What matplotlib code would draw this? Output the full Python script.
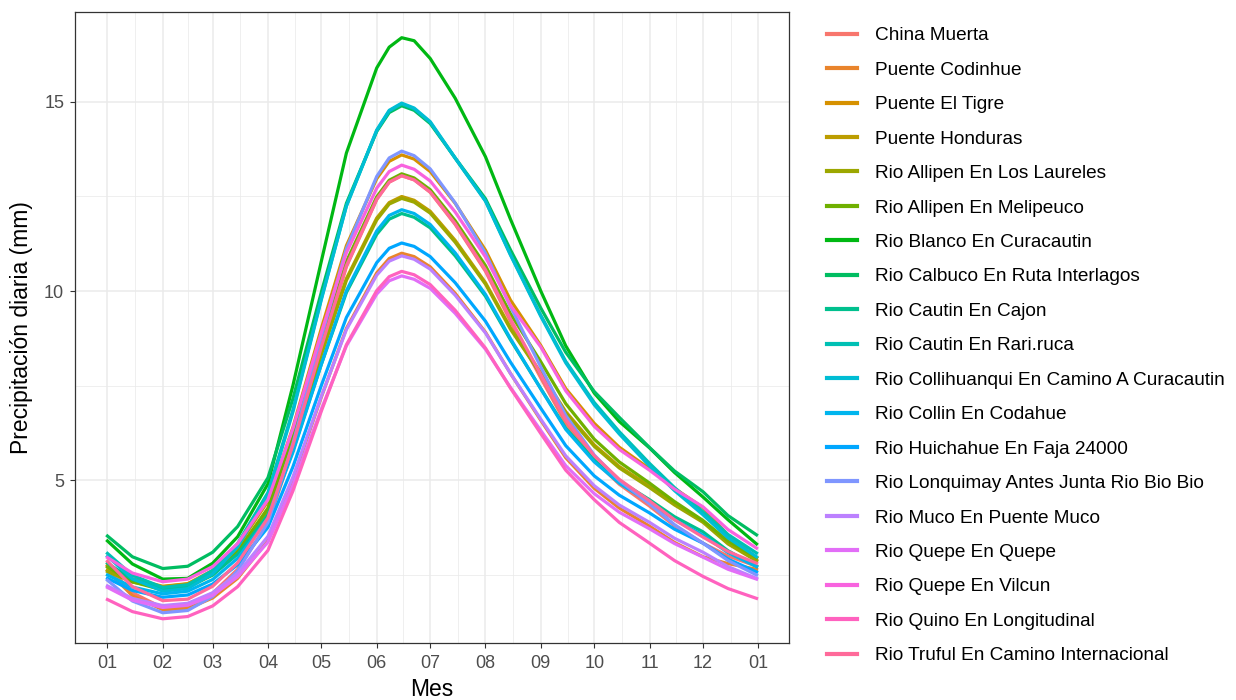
import numpy as np
import pandas as pd
import matplotlib
matplotlib.use("Agg")
import matplotlib.pyplot as plt
import matplotlib.dates as mdates

plt.rcParams['font.family'] = ['Liberation Sans', 'DejaVu Sans']

# ---------------- data ----------------
dates = ['2021-01-01', '2021-01-15', '2021-02-01', '2021-02-15', '2021-03-01', '2021-03-15',
         '2021-04-01', '2021-04-15', '2021-05-01', '2021-05-15', '2021-06-01', '2021-06-08',
         '2021-06-15', '2021-06-22', '2021-07-01', '2021-07-15', '2021-08-01', '2021-08-15',
         '2021-09-01', '2021-09-15', '2021-10-01', '2021-10-15', '2021-11-01', '2021-11-15',
         '2021-12-01', '2021-12-15', '2021-12-31']

stations = ['China Muerta', 'Puente Codinhue', 'Puente El Tigre', 'Puente Honduras',
            'Rio Allipen En Los Laureles', 'Rio Allipen En Melipeuco', 'Rio Blanco En Curacautin',
            'Rio Calbuco En Ruta Interlagos', 'Rio Cautin En Cajon', 'Rio Cautin En Rari.ruca',
            'Rio Collihuanqui En Camino A Curacautin', 'Rio Collin En Codahue',
            'Rio Huichahue En Faja 24000', 'Rio Lonquimay Antes Junta Rio Bio Bio',
            'Rio Muco En Puente Muco', 'Rio Quepe En Quepe', 'Rio Quepe En Vilcun',
            'Rio Quino En Longitudinal', 'Rio Truful En Camino Internacional']

china_muerta = [2.72, 2.02, 1.62, 1.67, 2.01, 2.64, 3.85, 5.81, 8.45, 10.64, 12.42, 12.88, 13.05, 12.94,
                12.61, 11.76, 10.52, 9.20, 7.70, 6.50, 5.52, 4.89, 4.31, 3.79, 3.33, 2.99, 2.72]
puente_codinhue = [2.60, 1.94, 1.57, 1.60, 1.88, 2.40, 3.40, 5.02, 7.20, 9.01, 10.48, 10.86, 11.00, 10.91,
                   10.64, 9.94, 8.91, 7.82, 6.58, 5.59, 4.78, 4.26, 3.78, 3.35, 2.97, 2.79, 2.64]
puente_el_tigre = [2.75, 2.39, 2.19, 2.26, 2.61, 3.24, 4.44, 6.39, 9.02, 11.20, 12.97, 13.43, 13.60, 13.49,
                   13.16, 12.32, 11.08, 9.76, 8.56, 7.42, 6.50, 5.87, 5.30, 4.78, 4.27, 3.54, 2.95]
puente_honduras = [2.62, 2.34, 2.18, 2.25, 2.56, 3.13, 4.22, 5.98, 8.36, 10.33, 11.93, 12.34, 12.50, 12.40,
                   12.11, 11.34, 10.22, 9.03, 7.84, 6.81, 5.93, 5.36, 4.84, 4.38, 3.91, 3.34, 2.88]
allipen_laureles = [2.58, 2.30, 2.15, 2.22, 2.53, 3.10, 4.19, 5.94, 8.32, 10.28, 11.88, 12.30, 12.45, 12.35,
                    12.06, 11.29, 10.18, 8.99, 7.80, 6.77, 5.89, 5.32, 4.80, 4.34, 3.88, 3.31, 2.86]
allipen_melipeuco = [2.70, 2.31, 2.09, 2.16, 2.49, 3.10, 4.26, 6.14, 8.68, 10.78, 12.49, 12.93, 13.10, 12.99,
                     12.68, 11.86, 10.67, 9.40, 8.13, 7.02, 6.08, 5.48, 4.92, 4.43, 3.93, 3.39, 2.95]
blanco_curacautin = [3.39, 2.78, 2.38, 2.40, 2.80, 3.50, 4.90, 7.50, 10.80, 13.65, 15.90, 16.45, 16.70, 16.62,
                     16.15, 15.10, 13.55, 11.90, 10.00, 8.55, 7.30, 6.55, 5.85, 5.20, 4.55, 3.95, 3.31]
calbuco_interlagos = [3.52, 2.97, 2.66, 2.72, 3.09, 3.77, 5.06, 7.15, 9.98, 12.32, 14.22, 14.72, 14.90, 14.78,
                      14.43, 13.52, 12.44, 11.09, 9.55, 8.38, 7.34, 6.66, 5.86, 5.24, 4.69, 4.06, 3.55]
cautin_cajon = [2.80, 2.37, 2.13, 2.19, 2.49, 3.04, 4.08, 5.78, 8.07, 9.96, 11.50, 11.90, 12.05, 11.95,
                11.67, 10.93, 9.86, 8.71, 7.42, 6.37, 5.53, 4.98, 4.48, 4.03, 3.63, 3.13, 2.72]
cautin_rariruca = [3.06, 2.48, 2.16, 2.23, 2.61, 3.32, 4.67, 6.85, 9.81, 12.25, 14.24, 14.76, 14.95, 14.82,
                   14.46, 13.51, 12.38, 10.97, 9.36, 8.14, 7.05, 6.28, 5.44, 4.80, 4.16, 3.56, 3.07]
collihuanqui = [2.98, 2.39, 2.06, 2.13, 2.52, 3.23, 4.59, 6.80, 9.78, 12.25, 14.26, 14.78, 14.97, 14.84,
                14.48, 13.52, 12.38, 10.95, 9.33, 8.10, 6.99, 6.22, 5.37, 4.72, 4.08, 3.47, 2.97]
collin_codahue = [2.49, 2.17, 1.99, 2.06, 2.37, 2.93, 4.00, 5.73, 8.07, 10.01, 11.59, 12.00, 12.15, 12.05,
                  11.76, 11.01, 9.91, 8.74, 7.41, 6.34, 5.48, 4.92, 4.41, 3.95, 3.54, 3.08, 2.71]
huichahue = [2.40, 2.08, 1.90, 1.96, 2.25, 2.76, 3.75, 5.35, 7.51, 9.30, 10.75, 11.13, 11.27, 11.18,
             10.91, 10.22, 9.20, 8.12, 6.90, 5.91, 5.11, 4.60, 4.13, 3.70, 3.33, 2.91, 2.57]
lonquimay = [2.35, 1.80, 1.49, 1.55, 1.92, 2.60, 3.88, 5.97, 8.79, 11.12, 13.03, 13.52, 13.70, 13.58,
             13.23, 12.33, 11.00, 9.59, 7.99, 6.71, 5.66, 4.99, 4.37, 3.82, 3.33, 2.87, 2.49]
muco = [2.20, 1.87, 1.68, 1.74, 2.02, 2.53, 3.51, 5.08, 7.22, 8.98, 10.42, 10.79, 10.93, 10.84,
        10.58, 9.89, 8.89, 7.82, 6.61, 5.64, 4.85, 4.34, 3.88, 3.46, 3.09, 2.71, 2.40]
quepe_quepe = [2.16, 1.82, 1.63, 1.69, 1.95, 2.44, 3.36, 4.86, 6.88, 8.55, 9.92, 10.27, 10.40, 10.31,
               10.07, 9.41, 8.46, 7.45, 6.31, 5.38, 4.64, 4.15, 3.71, 3.32, 2.96, 2.64, 2.38]
quepe_vilcun = [2.95, 2.54, 2.31, 2.38, 2.71, 3.32, 4.48, 6.36, 8.91, 11.01, 12.72, 13.16, 13.33, 13.22,
                12.91, 12.09, 10.90, 9.62, 8.52, 7.36, 6.42, 5.81, 5.26, 4.76, 4.29, 3.69, 3.20]
quino = [1.84, 1.52, 1.33, 1.39, 1.67, 2.18, 3.14, 4.71, 6.83, 8.58, 10.01, 10.38, 10.52, 10.43,
         10.17, 9.49, 8.49, 7.43, 6.23, 5.26, 4.48, 3.88, 3.33, 2.87, 2.45, 2.13, 1.87]
truful = [2.85, 2.18, 1.81, 1.85, 2.19, 2.81, 4.00, 5.92, 8.53, 10.67, 12.43, 12.88, 13.05, 12.94,
          12.62, 11.78, 10.56, 9.26, 7.79, 6.60, 5.64, 5.02, 4.45, 3.95, 3.49, 3.11, 2.80]

series = [china_muerta, puente_codinhue, puente_el_tigre, puente_honduras, allipen_laureles,
          allipen_melipeuco, blanco_curacautin, calbuco_interlagos, cautin_cajon, cautin_rariruca,
          collihuanqui, collin_codahue, huichahue, lonquimay, muco, quepe_quepe, quepe_vilcun,
          quino, truful]

y_ticks = [5, 10, 15]
y_minor = [2.5, 7.5, 12.5]


# ---------------- ggplot hue palette ----------------
def hcl_hex(h, c=100.0, l=65.0):
    hr = np.deg2rad(h)
    u, v = c * np.cos(hr), c * np.sin(hr)
    Xn, Yn, Zn = 95.047, 100.0, 108.883
    den = Xn + 15 * Yn + 3 * Zn
    un, vn = 4 * Xn / den, 9 * Yn / den
    Y = Yn * ((l + 16) / 116) ** 3 if l > 8 else Yn * l / 903.3
    up, vp = u / (13 * l) + un, v / (13 * l) + vn
    X = Y * 9 * up / (4 * vp)
    Z = Y * (12 - 3 * up - 20 * vp) / (4 * vp)
    X, Y, Z = X / 100, Y / 100, Z / 100
    rgb = np.array([3.2404542 * X - 1.5371385 * Y - 0.4985314 * Z,
                    -0.9692660 * X + 1.8760108 * Y + 0.0415560 * Z,
                    0.0556434 * X - 0.2040259 * Y + 1.0572252 * Z])
    rgb = np.where(rgb <= 0.0031308, 12.92 * rgb, 1.055 * np.abs(rgb) ** (1 / 2.4) - 0.055)
    rgb = np.clip(rgb, 0, 1)
    return '#%02X%02X%02X' % tuple(int(round(x * 255)) for x in rgb)


n = len(stations)
hues = np.linspace(15, 375, n + 1)[:n]
colors = [hcl_hex(h) for h in hues]

# ---------------- figure ----------------
W, H = 1236, 700
fig = plt.figure(figsize=(W / 100, H / 100), dpi=100)
ax = fig.add_axes([75 / W, 1 - 643 / H, (789 - 75) / W, (643 - 12) / H])

x = pd.to_datetime(dates)
for name, vals, col in zip(stations, series, colors):
    ax.plot(x, vals, color=col, lw=2.3, label=name, solid_joinstyle='round', zorder=3)

# x axis: months
majors = pd.date_range('2021-01-01', '2022-01-01', freq='MS')
maj_num = mdates.date2num(majors)
minor_num = (maj_num[:-1] + maj_num[1:]) / 2
x0, x1 = mdates.date2num(x[0]), mdates.date2num(x[-1])
pad = 0.05 * (x1 - x0)
ax.set_xlim(x0 - pad, x1 + pad)
ax.set_xticks(maj_num)
ax.set_xticklabels([d.strftime('%m') for d in majors])
ax.set_xticks(minor_num, minor=True)

ax.set_ylim(0.69, 17.38)
ax.set_yticks(y_ticks)
ax.set_yticks(y_minor, minor=True)

ax.grid(which='major', color='#EBEBEB', lw=1.1, zorder=0)
ax.grid(which='minor', color='#EBEBEB', lw=0.55, zorder=0)
ax.set_axisbelow(True)
ax.tick_params(which='major', length=3.8, width=0.8, color='#333333',
               labelsize=13, labelcolor='#4D4D4D')
ax.tick_params(axis='x', which='major', pad=5)
ax.tick_params(axis='y', which='major', pad=4)
ax.tick_params(which='minor', length=0)
for s in ax.spines.values():
    s.set_color('#333333')
    s.set_linewidth(0.9)

ax.set_xlabel('Mes', fontsize=16.5, labelpad=4)
ax.set_ylabel('Precipitación diaria (mm)', fontsize=16.5, labelpad=8)

leg = fig.legend(loc='upper left', bbox_to_anchor=(827 / W, 1 - 27 / H),
                 frameon=False, fontsize=13.7, borderpad=0, borderaxespad=0,
                 handlelength=1.6, handletextpad=0.9, labelspacing=0.9)
for h in leg.get_lines():
    h.set_linewidth(3)

fig.savefig('out.png', dpi=100)
